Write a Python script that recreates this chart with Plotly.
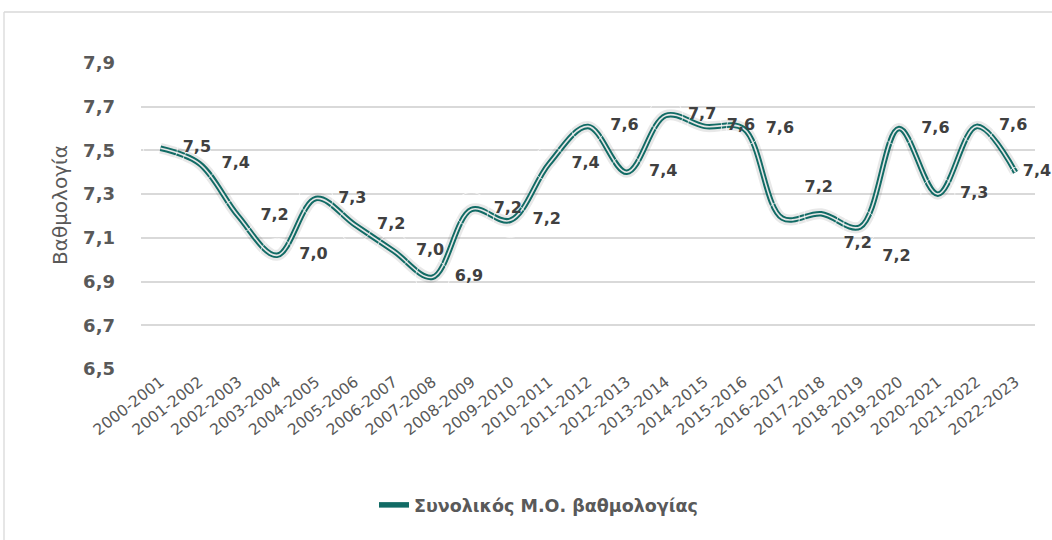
import plotly.graph_objects as go

categories = ["2000-2001", "2001-2002", "2002-2003", "2003-2004", "2004-2005", "2005-2006",
              "2006-2007", "2007-2008", "2008-2009", "2009-2010", "2010-2011", "2011-2012",
              "2012-2013", "2013-2014", "2014-2015", "2015-2016", "2016-2017", "2017-2018",
              "2018-2019", "2019-2020", "2020-2021", "2021-2022", "2022-2023"]
values = [7.51, 7.44, 7.20, 7.02, 7.28, 7.16, 7.04, 6.92, 7.23, 7.18, 7.44, 7.61,
          7.40, 7.66, 7.61, 7.60, 7.19, 7.21, 7.15, 7.60, 7.30, 7.61, 7.40]
y_ticks = [6.5, 6.7, 6.9, 7.1, 7.3, 7.5, 7.7, 7.9]
series_name = "Συνολικός Μ.Ο. βαθμολογίας"
y_title = "Βαθμολογία"

# label placement (style only)
label_pos = ["middle right"] * len(categories)
label_pos[16] = "top right"
label_pos[17] = "bottom right"
label_pos[18] = "bottom right"
label_gap = [34] * len(categories)
label_gap[-1] = 10

TEAL = "#116b65"
GRAY = "#595959"
LABEL = "#404040"
FONT = "DejaVu Sans"

fig = go.Figure()
# soft shadow
fig.add_trace(go.Scatter(x=categories, y=values, mode="lines",
                         line=dict(color="rgba(0,0,0,0.09)", width=11, shape="spline", smoothing=1.0),
                         hoverinfo="skip", showlegend=False))
# outer line
fig.add_trace(go.Scatter(x=categories, y=values, mode="lines", name=series_name,
                         line=dict(color=TEAL, width=5.5, shape="spline", smoothing=1.0),
                         showlegend=True))
# inner line
fig.add_trace(go.Scatter(x=categories, y=values, mode="lines",
                         line=dict(color="#e6e6e6", width=1.6, shape="spline", smoothing=1.0),
                         hoverinfo="skip", showlegend=False))
# data labels
fig.add_trace(go.Scatter(x=categories, y=values, mode="markers+text",
                         marker=dict(size=label_gap, color="rgba(0,0,0,0)"),
                         texttemplate="%{y:.1f}", textposition=label_pos, cliponaxis=False,
                         textfont=dict(family=FONT, size=16, color=LABEL, weight="bold"),
                         hoverinfo="skip", showlegend=False))

# plot-area edges in window pixels (body margin removed below)
L, R, T, B = 141, 1035, 63, 369
W, H = 1052, 540
def px(xp):
    return (xp - L) / (R - L)
def py(yp):
    return (B - yp) / (B - T)

fig.add_shape(type="line", xref="paper", yref="paper", x0=px(4), x1=px(1070), y0=py(12), y1=py(12),
              line=dict(color="#d9d9d9", width=1.3))
fig.add_shape(type="line", xref="paper", yref="paper", x0=px(4), x1=px(4), y0=py(12), y1=py(580),
              line=dict(color="#d9d9d9", width=1.3))

fig.add_annotation(text=y_title, xref="paper", yref="paper", x=px(60), y=py(205),
                   textangle=-90, showarrow=False, xanchor="center", yanchor="middle",
                   font=dict(family=FONT, size=20, color=GRAY))

fig.update_layout(
    width=W, height=H,
    margin=dict(l=L, r=W - R, t=T, b=H - B),
    paper_bgcolor="white", plot_bgcolor="white",
    separators=",.",
    showlegend=True,
    legend=dict(orientation="h", x=px(374), xanchor="left", y=py(505), yanchor="middle",
                font=dict(family=FONT, size=17.5, color=GRAY, weight="bold")),
    xaxis=dict(type="category", range=[-0.5, len(categories) - 0.5], tickangle=-38,
               tickfont=dict(family=FONT, size=15.5, color=GRAY),
               showgrid=False, showline=False, ticks="", zeroline=False),
    yaxis=dict(range=[6.5, 7.9], tickvals=y_ticks, tickformat=".1f",
               tickfont=dict(family=FONT, size=18, color=GRAY, weight="bold"),
               gridcolor="#d9d9d9", gridwidth=1.5, zeroline=False, showline=False,
               ticks="", ticklabelstandoff=25),
)

fig.write_html("out.html", config={"displayModeBar": False},
               post_script="document.body.style.margin='0';document.body.style.overflow='hidden';")
